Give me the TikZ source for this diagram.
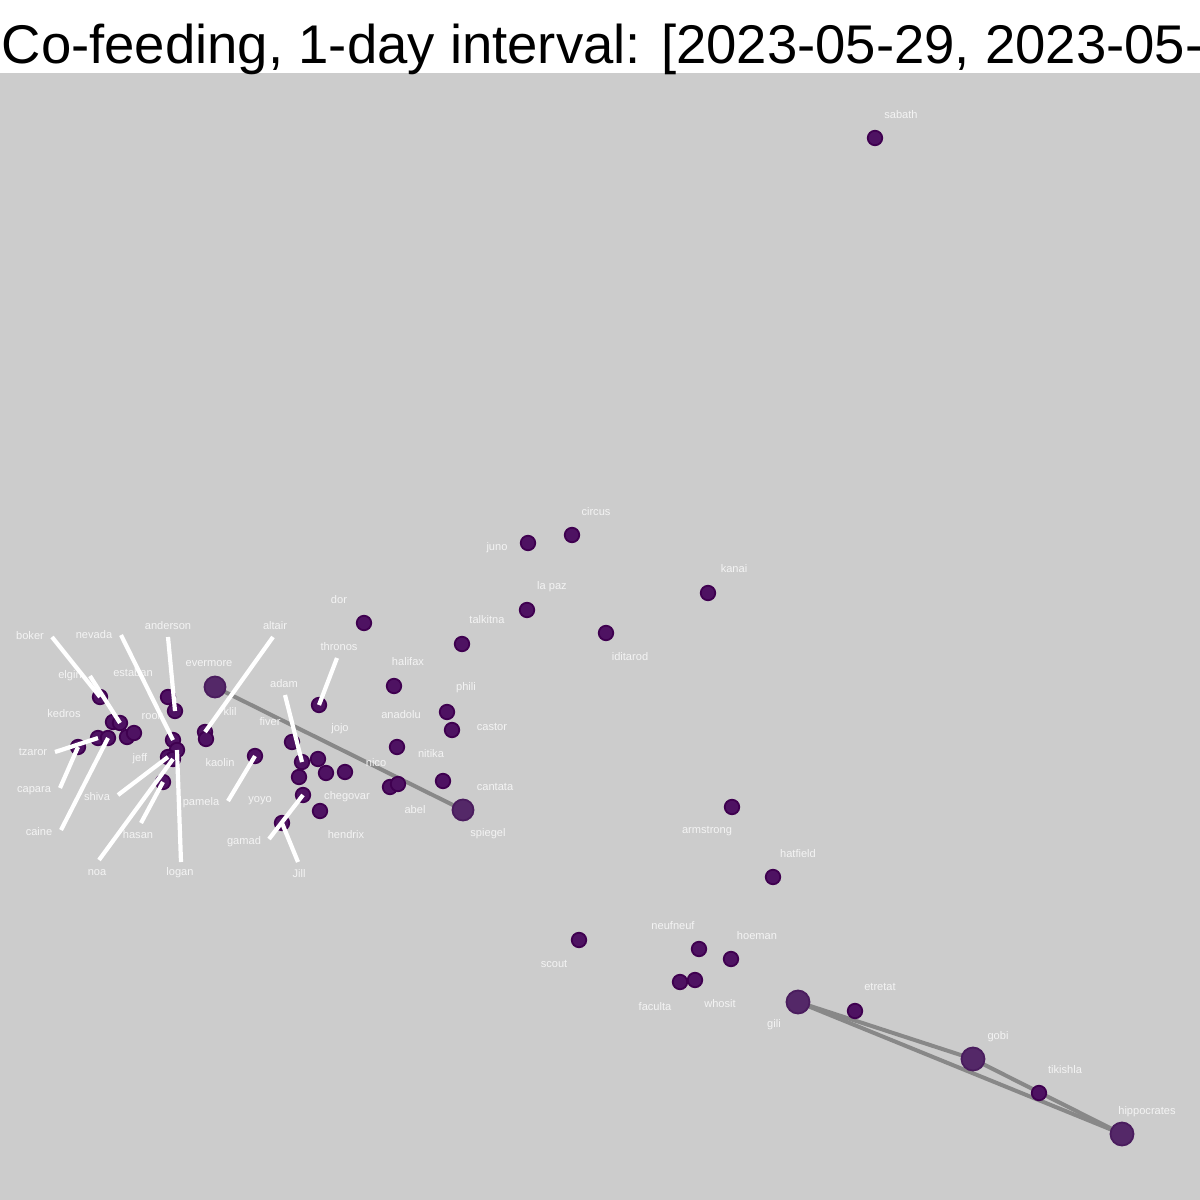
\documentclass[tikz,border=0pt]{standalone}
\usepackage{fontspec}
\setmainfont{Liberation Sans}
\definecolor{bg}{HTML}{CCCCCC}
\definecolor{dotfill}{HTML}{4E1262}
\definecolor{dotedge}{HTML}{3F0050}
\definecolor{bigfill}{HTML}{542868}
\definecolor{bigedge}{HTML}{4A1C5E}
\definecolor{edgegray}{HTML}{888888}
\definecolor{lbltext}{HTML}{F4F4F4}
\tikzset{
  dotnode/.style={circle, inner sep=0pt, minimum size=0.145cm, fill=dotfill, draw=dotedge, line width=0.018cm},
  bignode/.style={circle, inner sep=0pt, minimum size=0.21cm, fill=bigfill, draw=bigedge, line width=0.018cm},
  hugenode/.style={bignode, minimum size=0.23cm},
  lbl/.style={inner sep=0pt, text=lbltext, font=\fontsize{3.15}{3.6}\selectfont},
  tie/.style={draw=edgegray, line width=0.04cm},
  leader/.style={draw=white, line width=0.042cm},
}
\begin{document}
\begin{tikzpicture}[x=0.01cm, y=-0.01cm]
\useasboundingbox (0,0) rectangle (1200,1200);
\clip (0,0) rectangle (1200,1200);
\fill[white] (0,0) rectangle (1200,73);
\fill[bg] (0,73) rectangle (1200,1200);
\node[anchor=base west, inner sep=0pt, font=\fontsize{15.5}{18}\selectfont] (title) at (1,64) {Co-feeding, 1-day interval: [2023-05-29, 2023-05-};

% ---- edges (drawn under the dots)
\coordinate (e-evermore) at (215,687);
\coordinate (e-spiegel) at (463,810);
\coordinate (e-gili) at (798,1002);
\coordinate (e-gobi) at (973,1059);
\coordinate (e-hipp) at (1122,1134);
\draw[tie] (e-evermore) -- (e-spiegel);
\draw[tie] (e-gili) -- (e-gobi);
\draw[tie] (e-gili) -- (e-hipp);
\draw[tie] (e-gobi) -- (e-hipp);

% ---- dots
\node[dotnode] (sabath) at (875,138) {};
\node[dotnode] (circus) at (572,535) {};
\node[dotnode] (juno) at (528,543) {};
\node[dotnode] (kanai) at (708,593) {};
\node[dotnode] (lapaz) at (527,610) {};
\node[dotnode] (talkitna) at (462,644) {};
\node[dotnode] (iditarod) at (606,633) {};
\node[dotnode] (dor) at (364,623) {};
\node[dotnode] (thronos) at (319,705) {};
\node[dotnode] (halifax) at (394,686) {};
\node[dotnode] (phili) at (447,712) {};
\node[dotnode] (castor) at (452,730) {};
\node[dotnode] (anadolu) at (397,747) {};
\node[dotnode] (nico) at (390,787) {};
\node[dotnode] (abel) at (398,784) {};
\node[dotnode] (nitika) at (443,781) {};
\node[bignode] (spiegel) at (463,810) {};
\node[dotnode] (fiver) at (292,742) {};
\node[dotnode] (adam) at (302,762) {};
\node[dotnode] (jojo) at (318,759) {};
\node[dotnode] (yoyo) at (299,777) {};
\node[dotnode] (chegovar) at (326,773) {};
\node[dotnode] (cantata) at (345,772) {};
\node[dotnode] (gamad) at (303,795) {};
\node[dotnode] (hendrix) at (320,811) {};
\node[dotnode] (jill) at (282,823) {};
\node[dotnode] (pamela) at (255,756) {};
\node[dotnode] (altair) at (205,732) {};
\node[dotnode] (klil) at (206,739) {};
\node[bignode] (evermore) at (215,687) {};
\node[dotnode] (boker) at (100,697) {};
\node[dotnode] (kedros) at (113,722) {};
\node[dotnode] (elgin) at (120,723) {};
\node[dotnode] (tzaror) at (98,738) {};
\node[dotnode] (caine) at (108,738) {};
\node[dotnode] (capara) at (78,747) {};
\node[dotnode] (estaban) at (127,737) {};
\node[dotnode] (roo) at (134,733) {};
\node[dotnode] (kaolin) at (168,697) {};
\node[dotnode] (anderson) at (175,711) {};
\node[dotnode] (nevada) at (173,740) {};
\node[dotnode] (logan) at (177,750) {};
\node[dotnode] (shiva) at (168,757) {};
\node[dotnode] (noa) at (173,759) {};
\node[dotnode] (hasan) at (163,782) {};
\node[dotnode] (armstrong) at (732,807) {};
\node[dotnode] (hatfield) at (773,877) {};
\node[dotnode] (scout) at (579,940) {};
\node[dotnode] (neufneuf) at (699,949) {};
\node[dotnode] (hoeman) at (731,959) {};
\node[dotnode] (faculta) at (680,982) {};
\node[dotnode] (whosit) at (695,980) {};
\node[hugenode] (gili) at (798,1002) {};
\node[dotnode] (etretat) at (855,1011) {};
\node[hugenode] (gobi) at (973,1059) {};
\node[dotnode] (tikishla) at (1039,1093) {};
\node[hugenode] (hippocrates) at (1122,1134) {};

% ---- labels
\node[lbl] (l-sabath) at (901,115) {sabath};
\node[lbl] (l-circus) at (596,512) {circus};
\node[lbl] (l-juno) at (497,548) {juno};
\node[lbl] (l-kanai) at (734,569) {kanai};
\node[lbl] (l-lapaz) at (552,587) {la paz};
\node[lbl] (l-talkitna) at (487,620) {talkitna};
\node[lbl] (l-iditarod) at (630,657) {iditarod};
\node[lbl] (l-dor) at (339,600) {dor};
\node[lbl] (l-thronos) at (339,647) {thronos};
\node[lbl] (l-halifax) at (408,662) {halifax};
\node[lbl] (l-phili) at (466,688) {phili};
\node[lbl] (l-anadolu) at (401,715) {anadolu};
\node[lbl] (l-castor) at (492,727) {castor};
\node[lbl] (l-jojo) at (340,729) {jojo};
\node[lbl] (l-nitika) at (431,754) {nitika};
\node[lbl] (l-nico) at (376,763) {nico};
\node[lbl] (l-cantata) at (495,787) {cantata};
\node[lbl] (l-chegovar) at (347,797) {chegovar};
\node[lbl] (l-abel) at (415,810) {abel};
\node[lbl] (l-spiegel) at (488,834) {spiegel};
\node[lbl] (l-hendrix) at (346,835) {hendrix};
\node[lbl] (l-jill) at (299,874) {Jill};
\node[lbl] (l-gamad) at (244,842) {gamad};
\node[lbl] (l-yoyo) at (260,801) {yoyo};
\node[lbl] (l-pamela) at (201,803) {pamela};
\node[lbl] (l-kaolin) at (220,763) {kaolin};
\node[lbl] (l-fiver) at (270,722) {fiver};
\node[lbl] (l-adam) at (284,684) {adam};
\node[lbl] (l-klil) at (230,711) {klil};
\node[lbl] (l-evermore) at (209,664) {evermore};
\node[lbl] (l-altair) at (275,626) {altair};
\node[lbl] (l-anderson) at (168,626) {anderson};
\node[lbl] (l-nevada) at (94,635) {nevada};
\node[lbl] (l-boker) at (30,636) {boker};
\node[lbl] (l-estaban) at (133,673) {estaban};
\node[lbl] (l-elgin) at (70,676) {elgin};
\node[lbl] (l-kedros) at (64,714) {kedros};
\node[lbl, anchor=west] (l-roo) at (141,716) {rook};
\node[lbl] (l-tzaror) at (33,752) {tzaror};
\node[lbl] (l-jeff) at (140,759) {jeff};
\node[lbl] (l-capara) at (34,791) {capara};
\node[lbl] (l-shiva) at (97,797) {shiva};
\node[lbl] (l-caine) at (39,832) {caine};
\node[lbl] (l-hasan) at (138,835) {hasan};
\node[lbl] (l-noa) at (97,873) {noa};
\node[lbl] (l-logan) at (180,873) {logan};
\node[lbl] (l-armstrong) at (707,831) {armstrong};
\node[lbl] (l-hatfield) at (798,854) {hatfield};
\node[lbl] (l-neufneuf) at (673,926) {neufneuf};
\node[lbl] (l-hoeman) at (757,936) {hoeman};
\node[lbl] (l-scout) at (554,964) {scout};
\node[lbl] (l-faculta) at (655,1007) {faculta};
\node[lbl] (l-whosit) at (720,1004) {whosit};
\node[lbl] (l-gili) at (774,1025) {gili};
\node[lbl] (l-etretat) at (880,987) {etretat};
\node[lbl] (l-gobi) at (998,1037) {gobi};
\node[lbl] (l-tikishla) at (1065,1070) {tikishla};
\node[lbl] (l-hippocrates) at (1147,1112) {hippocrates};

% ---- leader lines (over dots and labels)
\coordinate (s-boker) at (52,637);
\coordinate (s-elgin) at (90,676);
\coordinate (s-nevada) at (121,635);
\coordinate (s-anderson) at (168,637);
\coordinate (s-tzaror) at (55,752);
\coordinate (s-capara) at (60,788);
\coordinate (s-caine) at (61,830);
\coordinate (s-shiva) at (118,795);
\coordinate (s-hasan) at (141,823);
\coordinate (s-noa) at (99,860);
\coordinate (s-logan) at (181,862);
\coordinate (s-altair) at (273,637);
\coordinate (s-thronos) at (337,658);
\coordinate (s-adam) at (285,695);
\coordinate (s-pamela) at (228,801);
\coordinate (s-gamad) at (269,839);
\coordinate (s-jill) at (298,862);
\draw[leader] (s-boker) -- (boker.center);
\draw[leader] (s-elgin) -- (elgin.center);
\draw[leader] (s-nevada) -- (nevada.center);
\draw[leader] (s-anderson) -- (anderson.center);
\draw[leader] (s-tzaror) -- (tzaror.center);
\draw[leader] (s-capara) -- (capara.center);
\draw[leader] (s-caine) -- (caine.center);
\draw[leader] (s-shiva) -- (shiva.center);
\draw[leader] (s-hasan) -- (hasan.center);
\draw[leader] (s-noa) -- (noa.center);
\draw[leader] (s-logan) -- (logan.center);
\draw[leader] (s-altair) -- (altair.center);
\draw[leader] (s-thronos) -- (thronos.center);
\draw[leader] (s-adam) -- (adam.center);
\draw[leader] (s-pamela) -- (pamela.center);
\draw[leader] (s-gamad) -- (gamad.center);
\draw[leader] (s-jill) -- (jill.center);
\end{tikzpicture}
\end{document}
